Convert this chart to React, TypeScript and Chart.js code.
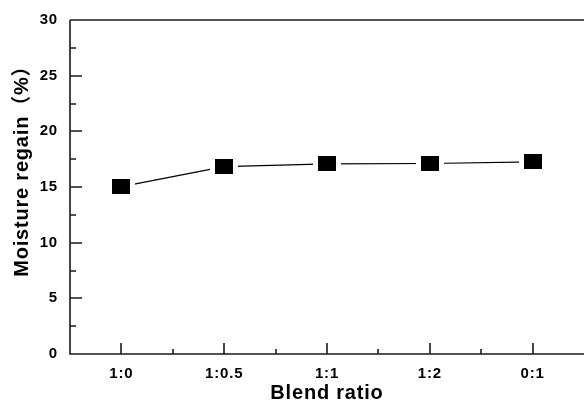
import React, { useEffect, useRef } from "react";
import { Chart, registerables } from "chart.js";

Chart.register(...registerables);

const categories = ["1:0", "1:0.5", "1:1", "1:2", "0:1"];
const moistureRegain = [15.03, 16.83, 17.07, 17.11, 17.25];
const yMajorTicks = [0, 5, 10, 15, 20, 25, 30];
const yMinorTicks = [2.5, 7.5, 12.5, 17.5, 22.5, 27.5];
const xMinorTicks = [0.5, 1.5, 2.5, 3.5];
const xTitle = "Blend ratio";
const yTitle = "\u2003\u2003Moisture regain（%）";

const FAMILY = "'Liberation Sans', Arial, 'Noto Sans CJK SC', sans-serif";

function makeBox(w: number, h: number, color: string) {
  const c = document.createElement("canvas");
  c.width = w;
  c.height = h;
  const g = c.getContext("2d")!;
  g.fillStyle = color;
  g.fillRect(0, 0, w, h);
  return c;
}

const framePlugin = {
  id: "frame",
  beforeDraw(chart: any) {
    (chart.ctx as any).letterSpacing = "0.8px";
  },
  afterDraw(chart: any) {
    const { ctx, chartArea: a, scales } = chart;
    const xs = scales.x;
    const ys = scales.y;
    ctx.save();
    (ctx as any).letterSpacing = "0px";
    ctx.strokeStyle = "#1a1a1a";
    ctx.lineWidth = 1.6;
    ctx.beginPath();
    ctx.moveTo(a.left, a.top);
    ctx.lineTo(a.right, a.top);
    ctx.moveTo(a.left, a.top);
    ctx.lineTo(a.left, a.bottom);
    ctx.lineTo(a.right, a.bottom);
    for (const v of yMajorTicks) {
      const p = Math.round(ys.getPixelForValue(v));
      ctx.moveTo(a.left, p);
      ctx.lineTo(a.left + 12, p);
    }
    for (const v of yMinorTicks) {
      const p = Math.round(ys.getPixelForValue(v));
      ctx.moveTo(a.left, p);
      ctx.lineTo(a.left + 6, p);
    }
    categories.forEach((_, i) => {
      const p = Math.round(xs.getPixelForValue(i));
      ctx.moveTo(p, a.bottom);
      ctx.lineTo(p, a.bottom - 11);
    });
    for (const v of xMinorTicks) {
      const p = Math.round(xs.getPixelForValue(v));
      ctx.moveTo(p, a.bottom);
      ctx.lineTo(p, a.bottom - 5);
    }
    ctx.stroke();
    ctx.restore();
  },
};

export default function App() {
  const ref = useRef<HTMLCanvasElement | null>(null);

  useEffect(() => {
    if (!ref.current) return;
    const marker = makeBox(18, 15, "#000000");
    const mask = makeBox(28, 25, "#ffffff");
    const chart = new Chart(ref.current, {
      type: "line",
      data: {
        labels: categories,
        datasets: [
          {
            label: "markers",
            data: moistureRegain,
            showLine: false,
            pointStyle: marker as any,
            pointRadius: 9,
            order: 0,
          },
          {
            label: "line",
            data: moistureRegain,
            borderColor: "#000000",
            borderWidth: 1.2,
            pointStyle: mask as any,
            pointRadius: 14,
            order: 1,
            tension: 0,
          },
        ],
      },
      options: {
        animation: false,
        responsive: false,
        events: [],
        layout: { autoPadding: false, padding: { top: 20, right: 0, left: 0, bottom: 0 } },
        plugins: {
          legend: { display: false },
          tooltip: { enabled: false },
        },
        scales: {
          x: {
            type: "category",
            offset: true,
            grid: { display: false, drawTicks: false },
            border: { display: false },
            ticks: {
              color: "#000000",
              padding: 11,
              font: { family: FAMILY, size: 15, weight: "bold" },
              maxRotation: 0,
            },
            title: {
              display: true,
              text: xTitle,
              color: "#000000",
              font: { family: FAMILY, size: 20, weight: "bold", lineHeight: 1 },
              padding: { top: 0, bottom: -3 },
            },
            afterFit: (s: any) => {
              s.height = 46;
              s.paddingLeft = 0;
              s.paddingRight = 0;
            },
          },
          y: {
            min: 0,
            max: 30,
            grid: { display: false, drawTicks: false },
            border: { display: false },
            ticks: {
              stepSize: 5,
              color: "#000000",
              padding: 12,
              font: { family: FAMILY, size: 15, weight: "bold" },
            },
            title: {
              display: true,
              text: yTitle,
              color: "#000000",
              font: { family: FAMILY, size: 20, weight: "bold", lineHeight: 1.2 },
              padding: { top: 10, bottom: 0 },
            },
            afterFit: (s: any) => {
              s.width = 70;
              s.paddingTop = 0;
              s.paddingBottom = 0;
            },
          },
        },
      },
      plugins: [framePlugin],
    });
    return () => chart.destroy();
  }, []);

  return (
    <div style={{ position: "fixed", left: 0, top: 0, width: 584, height: 400, background: "#fff" }}>
      <canvas ref={ref} width={584} height={400} style={{ display: "block" }} />
    </div>
  );
}
